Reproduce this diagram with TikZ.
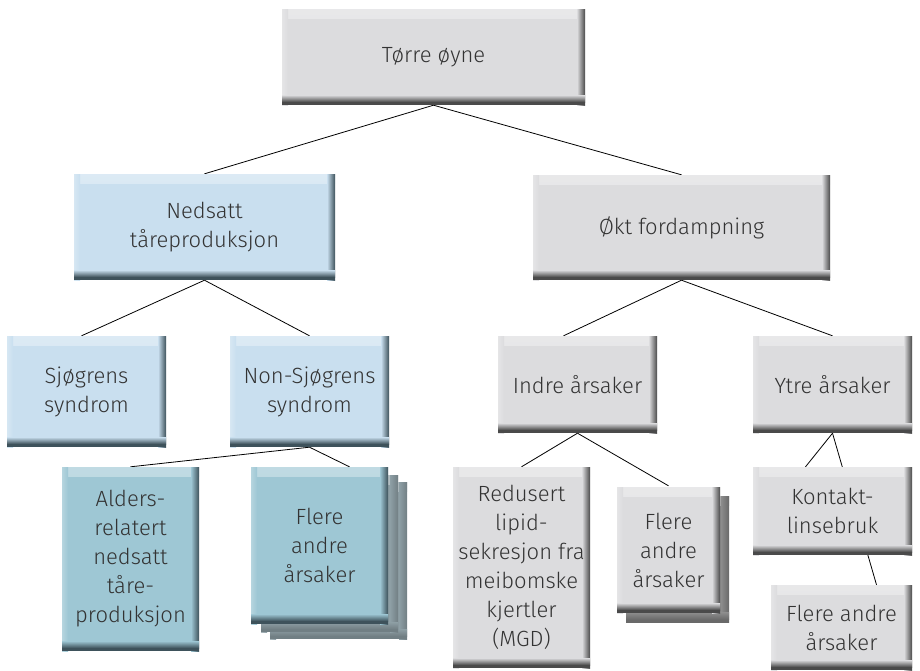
\documentclass[tikz,border=0pt]{standalone}
\usepackage{fontspec}
\setmainfont{Fira Sans Light}
\usetikzlibrary{backgrounds}
\definecolor{boxgray}{HTML}{DCDCDE}
\definecolor{boxblue}{HTML}{C9DFEF}
\definecolor{boxteal}{HTML}{9EC7D4}
\definecolor{copyteal}{HTML}{8E9FA5}
\definecolor{copygray}{HTML}{8C8C8C}
\definecolor{txt}{HTML}{333333}
\definecolor{edgegray}{HTML}{4A4A4A}
\definecolor{edgeteal}{HTML}{3E525B}
\tikzset{
  bev/.style 2 args={rectangle, draw=none, inner sep=0pt, align=center, text=txt,
    font=\fontsize{22}{29}\selectfont, fill=#1,
    path picture={
      \shade[top color=white!35!#1, bottom color=#1]
        (path picture bounding box.north west) rectangle ([yshift=-9pt]path picture bounding box.north east);
      \shade[left color=white!25!#1, right color=#1]
        (path picture bounding box.north west) rectangle ([xshift=6pt]path picture bounding box.south west);
      \shade[left color=#1, right color=#2]
        ([xshift=-8pt]path picture bounding box.north east) rectangle (path picture bounding box.south east);
      \shade[top color=#1, bottom color=#2]
        ([yshift=10pt]path picture bounding box.south west) rectangle ([yshift=3pt]path picture bounding box.south east);
      \fill[#2] ([yshift=3pt]path picture bounding box.south west) rectangle (path picture bounding box.south east);
    }},
  gbox/.style={bev={boxgray}{edgegray}},
  bbox/.style={bev={boxblue}{edgeteal}},
  tbox/.style={bev={boxteal}{edgeteal}},
  tcopy/.style={bev={copyteal}{copyteal!80!black}},
  gcopy/.style={bev={copygray}{copygray!75!black}},
  wh/.style 2 args={minimum width=#1pt, minimum height=#2pt},
  conn/.style={draw=black, line width=0.8pt},
}
\begin{document}
\begin{tikzpicture}[x=1pt,y=-1pt]
\useasboundingbox (0,0) rectangle (920,670);
% level 0
\node[gbox, wh={303}{96}] (top) at (433.5,57) {Tørre øyne};
% level 1
\node[bbox, wh={261}{106}] (ned) at (204.5,227) {Nedsatt\\tåreproduksjon};
\node[gbox, wh={297}{105}] (okt) at (681.5,227.5) {Økt fordampning};
% level 2
\node[bbox, wh={159}{111}] (sjo) at (86.5,391.5) {Sjøgrens\\syndrom};
\node[bbox, wh={159}{111}] (non) at (309.5,391.5) {Non-Sjøgrens\\syndrom};
\node[gbox, wh={159}{97}] (ind) at (577.5,384.5) {Indre årsaker};
\node[gbox, wh={159}{97}] (ytr) at (832.5,384.5) {Ytre årsaker};
% level 3
\node[tbox, wh={137}{184}] (ald) at (130.5,559) {Alders-\\relatert\\nedsatt\\tåre-\\produksjon};
\node[tcopy, wh={137}{157}] (flbc2) at (338.5,560.5) {};
\node[tcopy, wh={137}{157}] (flbc1) at (329.5,553.5) {};
\node[tbox, wh={137}{157}] (flb) at (319.5,545.5) {Flere\\andre\\årsaker};
\node[gbox, wh={137}{201}] (red) at (521.5,567.5) {Redusert\\lipid-\\sekresjon fra\\meibomske\\kjertler\\(MGD)};
\node[gcopy, wh={103}{126}] (flgc) at (677.5,559.5) {};
\node[gbox, wh={103}{126}] (flg) at (668.5,550) {Flere\\andre\\årsaker};
\node[gbox, wh={159}{88}] (kon) at (832.5,511) {Kontakt-\\linsebruk};
\node[gbox, wh={141}{85}] (fly) at (841.5,627.5) {Flere andre\\årsaker};
% connectors
\begin{scope}[on background layer]
\draw[conn] (top.south) -- (ned.north);
\draw[conn] (top.south) -- (okt.north);
\draw[conn] (ned.south) -- ([xshift=-5pt]sjo.north);
\draw[conn] (ned.south) -- (non.north);
\draw[conn] (non.south) -- (ald.north);
\draw[conn] (non.south) -- ([xshift=30pt]flb.north);
\draw[conn] (okt.south) -- ([xshift=-14pt]ind.north);
\draw[conn] (okt.south) -- (ytr.north);
\draw[conn] (ind.south) -- (red.north);
\draw[conn] (ind.south) -- ([yshift=1pt]flg.north);
\draw[conn] (ytr.south) -- ([xshift=-27pt]kon.north);
\draw[conn] (ytr.south) -- ([xshift=35pt]fly.north);
\end{scope}
\end{tikzpicture}
\end{document}
